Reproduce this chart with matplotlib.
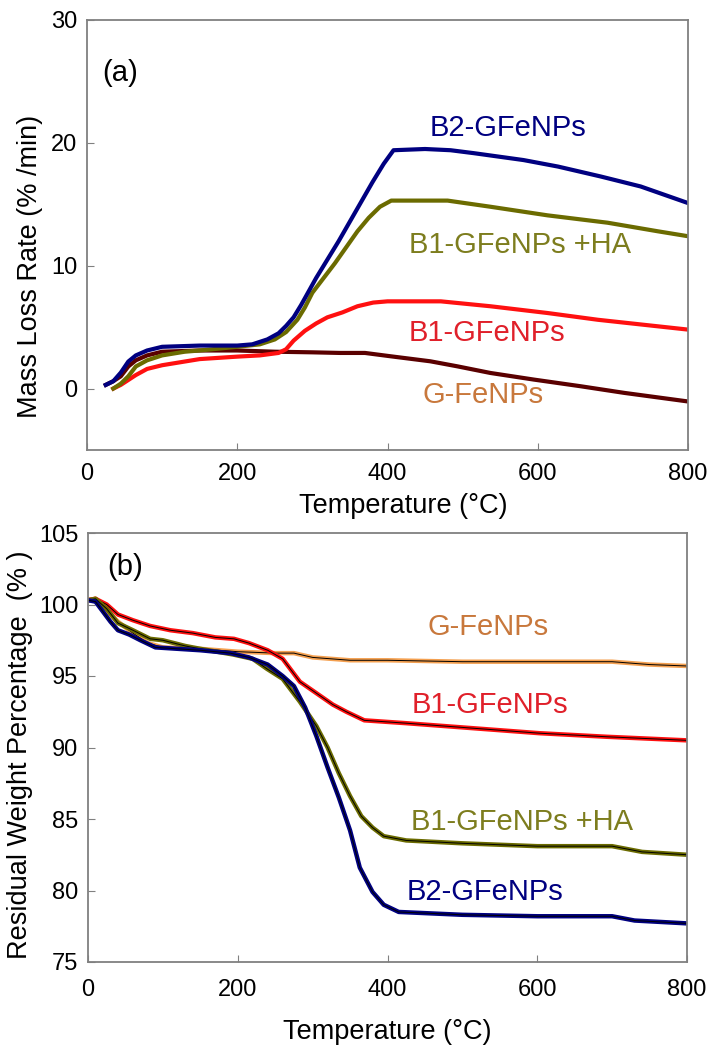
import matplotlib
matplotlib.use("Agg")
import matplotlib.pyplot as plt

plt.rcParams['font.family'] = ['Liberation Sans', 'DejaVu Sans']

# ---- (a) mass loss rate, % /min ----
b2_t = [25, 35, 45, 55, 65, 80, 100, 150, 200, 220, 240, 255, 265, 275, 285, 295, 305, 320, 335, 350,
        365, 380, 395, 408, 450, 484, 515, 581, 627, 684, 737, 800]
b2_v = [0.3, 0.6, 1.3, 2.2, 2.7, 3.1, 3.4, 3.5, 3.5, 3.6, 4.0, 4.5, 5.1, 5.8, 6.8, 7.9, 9.0, 10.5, 12.0, 13.6,
        15.2, 16.8, 18.3, 19.4, 19.5, 19.4, 19.16, 18.6, 18.07, 17.26, 16.45, 15.1]

ha_t = [35, 45, 55, 65, 80, 100, 130, 150, 200, 230, 250, 265, 280, 290, 300, 315, 330, 345, 360, 375,
        390, 405, 480, 537, 613, 693, 760, 800]
ha_v = [0.0, 0.4, 1.0, 1.8, 2.3, 2.7, 3.0, 3.1, 3.4, 3.6, 4.0, 4.6, 5.6, 6.6, 7.8, 9.0, 10.2, 11.5, 12.8, 13.9,
        14.8, 15.3, 15.3, 14.8, 14.1, 13.5, 12.8, 12.4]

b1_t = [35, 45, 55, 65, 80, 100, 150, 200, 230, 255, 265, 275, 290, 305, 320, 340, 360, 381, 400, 471,
        537, 613, 680, 800]
b1_v = [0.0, 0.3, 0.7, 1.1, 1.6, 1.9, 2.4, 2.6, 2.7, 2.9, 3.2, 3.9, 4.7, 5.3, 5.8, 6.2, 6.7, 7.0, 7.1, 7.1,
        6.7, 6.15, 5.6, 4.8]

g_t = [25, 35, 45, 55, 65, 80, 100, 150, 200, 250, 300, 337, 370, 404, 457, 493, 537, 595, 657, 715, 800]
g_v = [0.3, 0.6, 1.0, 1.8, 2.3, 2.7, 3.0, 3.1, 3.1, 3.0, 2.95, 2.9, 2.9, 2.63, 2.22, 1.81, 1.27, 0.73, 0.19,
       -0.35, -1.05]

# ---- (b) residual weight, % ----
gw_t = [0, 10, 20, 40, 60, 80, 100, 150, 200, 250, 275, 300, 350, 400, 500, 600, 700, 750, 800]
gw_v = [100.3, 100.4, 99.8, 98.8, 98.0, 97.3, 97.0, 96.9, 96.7, 96.6, 96.6, 96.3, 96.1, 96.1, 96.0, 96.0,
        96.0, 95.8, 95.7]

b1w_t = [0, 10, 25, 40, 60, 83, 110, 140, 170, 195, 215, 240, 260, 283, 305, 327, 345, 369, 425, 514,
         603, 693, 800]
b1w_v = [100.3, 100.4, 100.0, 99.3, 98.9, 98.5, 98.2, 98.0, 97.7, 97.6, 97.3, 96.8, 96.2, 94.6, 93.8, 93.0,
         92.5, 91.9, 91.7, 91.35, 91.0, 90.75, 90.5]

haw_t = [0, 10, 25, 40, 60, 83, 100, 130, 150, 194, 220, 239, 260, 283, 305, 320, 335, 350, 365, 380,
         395, 425, 500, 600, 700, 740, 800]
haw_v = [100.3, 100.4, 99.7, 98.7, 98.2, 97.6, 97.5, 97.1, 96.9, 96.5, 96.2, 95.5, 94.8, 93.2, 91.5, 90.0,
         88.2, 86.6, 85.2, 84.4, 83.8, 83.5, 83.3, 83.1, 83.1, 82.7, 82.5]

b2w_t = [0, 10, 20, 30, 40, 55, 70, 90, 120, 150, 190, 215, 240, 260, 275, 290, 305, 320, 335, 350,
         363, 380, 395, 415, 500, 600, 700, 730, 800]
b2w_v = [100.3, 100.2, 99.5, 98.8, 98.2, 97.9, 97.5, 97.0, 96.9, 96.8, 96.6, 96.3, 95.8, 95.0, 94.3, 92.8,
         90.8, 88.6, 86.5, 84.2, 81.6, 79.9, 79.0, 78.5, 78.3, 78.2, 78.2, 77.9, 77.7]

navy = '#000080'
olive = '#6b6b00'
olive_txt = '#7d7d1e'
red = '#ff1010'
red_txt = '#e0202a'
maroon = '#5a0000'
orange = '#f4a050'
orange_txt = '#c8783c'

LAB = 19.5   # axis labels
ANN = 21     # in-plot labels


def style(ax, pad):
    for s in ax.spines.values():
        s.set_color('#808080')
        s.set_linewidth(1.3)
    ax.tick_params(direction='in', length=5, color='#808080', labelsize=17,
                   top=False, right=False)
    ax.tick_params(axis='x', pad=pad)
    ax.tick_params(axis='y', pad=7)
    ax.set_xlim(0, 800)
    ax.set_xticks([0, 200, 400, 600, 800])


fig = plt.figure(figsize=(7.07, 10.45), dpi=100)
ax1 = fig.add_axes([87 / 707, 1 - 450 / 1045, 601 / 707, 430 / 1045])
ax2 = fig.add_axes([88 / 707, 1 - 962 / 1045, 599 / 707, 429 / 1045])

ax1.plot(g_t, g_v, color=maroon, lw=3)
ax1.plot(b1_t, b1_v, color=red, lw=3)
ax1.plot(ha_t, ha_v, color=olive, lw=3)
ax1.plot(b2_t, b2_v, color=navy, lw=3)
style(ax1, 9)
ax1.set_ylim(-5, 30)
ax1.set_yticks([0, 10, 20, 30])
ax1.set_ylabel('Mass Loss Rate (% /min)', fontsize=LAB)
ax1.yaxis.set_label_coords(-0.073, 0.426)
ax1.set_xlabel('Temperature (\u00b0C)', fontsize=LAB)
ax1.xaxis.set_label_coords(0.527, -0.1)
ax1.text(44, 25.7, '(a)', fontsize=ANN, ha='center', va='center')
ax1.text(560, 21.2, 'B2-GFeNPs', color=navy, fontsize=ANN, ha='center', va='center')
ax1.text(577, 11.7, 'B1-GFeNPs +HA', color=olive_txt, fontsize=ANN, ha='center', va='center')
ax1.text(533, 4.55, 'B1-GFeNPs', color=red_txt, fontsize=ANN, ha='center', va='center')
ax1.text(527, -0.5, 'G-FeNPs', color=orange_txt, fontsize=ANN, ha='center', va='center')

for t, v, c in [(gw_t, gw_v, orange), (b1w_t, b1w_v, red), (haw_t, haw_v, olive), (b2w_t, b2w_v, navy)]:
    ax2.plot(t, v, color=c, lw=3.2)
    ax2.plot(t, v, color='black', lw=0.7)
style(ax2, 12)
ax2.set_ylim(75, 105)
ax2.set_yticks([75, 80, 85, 90, 95, 100, 105])
ax2.set_ylabel('Residual Weight Percentage  (% )', fontsize=LAB)
ax2.yaxis.set_label_coords(-0.092, 0.483)
ax2.set_xlabel('Temperature (\u00b0C)', fontsize=LAB, labelpad=13)
ax2.text(49, 102.6, '(b)', fontsize=ANN, ha='center', va='center')
ax2.text(534, 98.4, 'G-FeNPs', color=orange_txt, fontsize=ANN, ha='center', va='center')
ax2.text(537, 93.0, 'B1-GFeNPs', color=red_txt, fontsize=ANN, ha='center', va='center')
ax2.text(579, 84.8, 'B1-GFeNPs +HA', color=olive_txt, fontsize=ANN, ha='center', va='center')
ax2.text(530, 79.9, 'B2-GFeNPs', color=navy, fontsize=ANN, ha='center', va='center')

fig.savefig('out.png', dpi=100)
